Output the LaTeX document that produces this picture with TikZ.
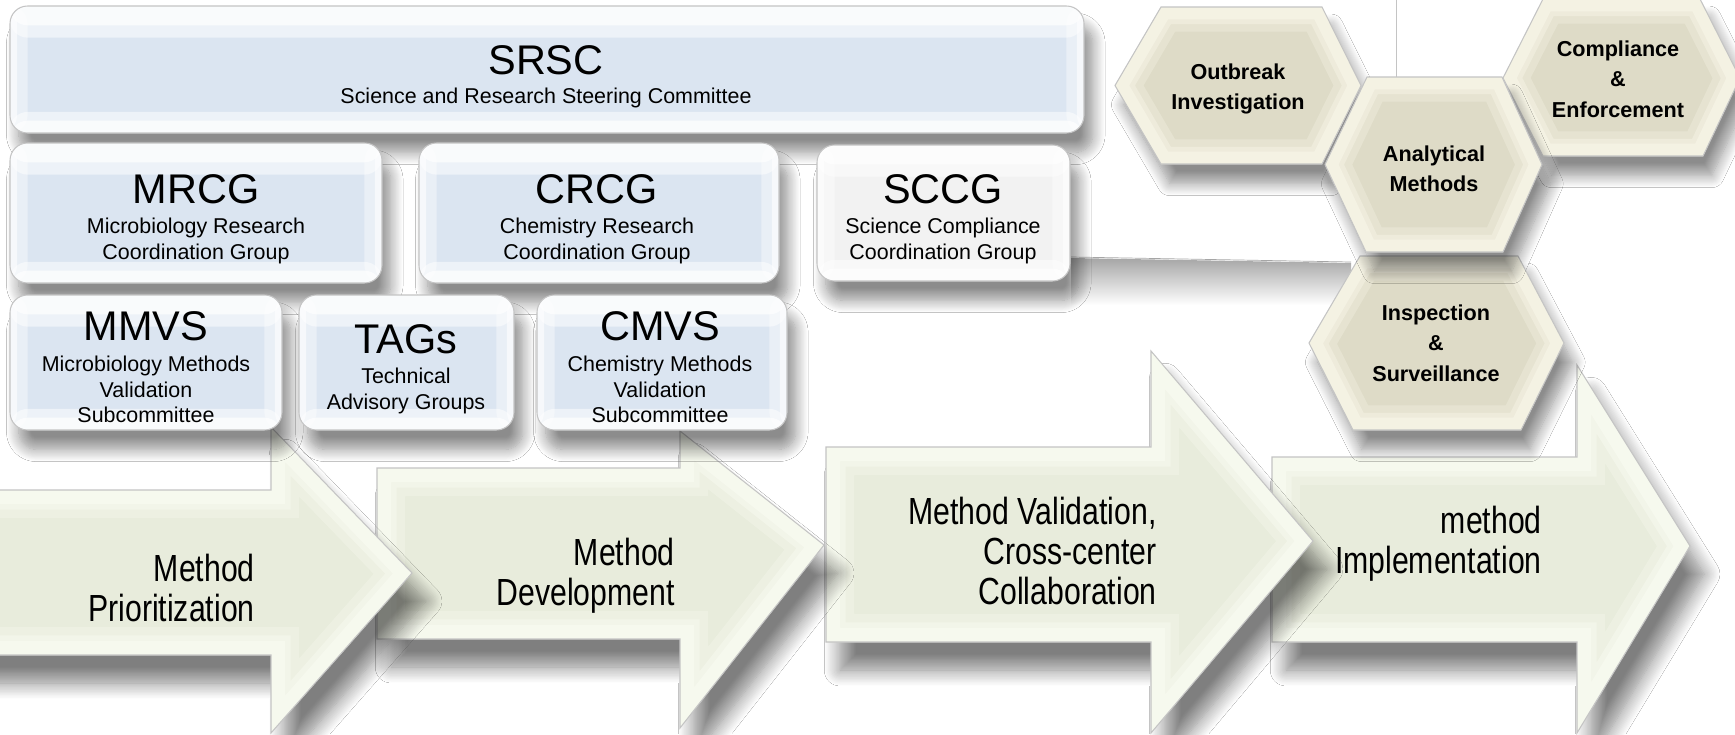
\documentclass[tikz,border=0pt]{standalone}
\usepackage{fontspec}
\setmainfont{Liberation Sans}
\newfontfamily\narrowfont[FakeStretch=0.8]{Liberation Sans}
\usetikzlibrary{shadows.blur}

\definecolor{boxblue}{HTML}{DBE5F1}
\definecolor{boxgrey}{HTML}{F2F2F2}
\definecolor{hexkhaki}{HTML}{DEDBC7}
\definecolor{hexcream}{HTML}{F6F4E6}
\definecolor{arrowgreen}{HTML}{E8ECDC}
\definecolor{arrowlight}{HTML}{F8FAF0}
\definecolor{edgegrey}{HTML}{C4C4C4}

% fill a closed path, lay a soft light band inside its border, then outline it
\newcommand{\bevelled}[4]{%
  \fill[#1] #4;
  \begin{scope}
    \clip #4;
    \draw[#2, opacity=0.35, line width=2*#3] #4;
    \draw[#2, opacity=0.5, line width=1.4*#3] #4;
    \draw[#2, opacity=0.8, line width=#3] #4;
  \end{scope}
  \draw[edgegrey, line width=0.6pt] #4;
}

\begin{document}
\begin{tikzpicture}[x=0.02cm, y=-0.02cm,
  softshadow/.style={blur shadow={shadow xshift=5pt, shadow yshift=-11pt, shadow blur radius=7pt, shadow blur steps=14, shadow opacity=45}},
  arrowshadow/.style={blur shadow={shadow xshift=8pt, shadow yshift=-16pt, shadow blur radius=9pt, shadow blur steps=14, shadow opacity=50}},
  box/.style={draw=edgegrey, line width=0.6pt, fill=boxblue, rounded corners=10pt, inner sep=0pt, softshadow,
    path picture={
      \fill[white, opacity=0.5] (path picture bounding box.north west) rectangle ([yshift=-18pt]path picture bounding box.north east);
      \fill[white, opacity=0.7] (path picture bounding box.north west) rectangle ([yshift=-11pt]path picture bounding box.north east);
      \fill[white, opacity=0.5] (path picture bounding box.south west) rectangle ([yshift=12pt]path picture bounding box.south east);
      \fill[white, opacity=0.7] (path picture bounding box.south west) rectangle ([yshift=7pt]path picture bounding box.south east);
      \fill[white, opacity=0.4] (path picture bounding box.south west) rectangle ([xshift=10pt]path picture bounding box.north west);
      \fill[white, opacity=0.4] (path picture bounding box.south east) rectangle ([xshift=-10pt]path picture bounding box.north east);
      \fill[white, opacity=0.6] (path picture bounding box.south west) rectangle ([xshift=4pt]path picture bounding box.north west);
      \fill[white, opacity=0.6] (path picture bounding box.south east) rectangle ([xshift=-4pt]path picture bounding box.north east);}},
  boxsize/.style 2 args={minimum width=#1*0.02cm, minimum height=#2*0.02cm},
  ttl/.style={font=\fontsize{23.6}{28}\selectfont, anchor=base, inner sep=0pt},
  sub/.style={font=\fontsize{12.2}{14.5}\selectfont, align=center, anchor=north, inner sep=0pt},
  hextext/.style={font=\fontsize{12.3}{17.6}\selectfont\bfseries, align=center, anchor=north, inner sep=0pt},
  steptext/.style={font=\narrowfont\fontsize{21.5}{22.8}\selectfont, align=right, anchor=north east, inner sep=0pt}]

\useasboundingbox (0,0) rectangle (1735,734);
\fill[white] (0,0) rectangle (1735,734);
\clip (0,0) rectangle (1735,734);

% page behind
\draw[edgegrey] (1396,0) -- (1396,78);
\shade[top color=black!35, bottom color=white] (1071,258) -- (1351,263) -- (1351,305) -- (1071,305) -- cycle;
\draw[gray!70] (1071,257) -- (1351,262);

% process arrows, last one first
\bevelled{arrowgreen, arrowshadow}{arrowlight}{16pt}{(1272,457) -- (1577,457) -- (1577,365) -- (1690,546) -- (1577,733) -- (1577,642) -- (1272,642) -- cycle}
\bevelled{arrowgreen, arrowshadow}{arrowlight}{16pt}{(826,447) -- (1151,447) -- (1151,351) -- (1313,541) -- (1151,733) -- (1151,642) -- (826,642) -- cycle}
\bevelled{arrowgreen, arrowshadow}{arrowlight}{16pt}{(377,468) -- (680,468) -- (680,431) -- (824,545) -- (680,728) -- (680,639) -- (377,639) -- cycle}
\bevelled{arrowgreen, arrowshadow}{arrowlight}{16pt}{(-30,490) -- (271,490) -- (271,427) -- (412,573) -- (271,733) -- (271,655) -- (-30,655) -- cycle}

\node[steptext] (prio) at (255,554) {Method\\Prioritization};
\node[steptext] (dev) at (675,537.5) {Method\\Development};
\node[steptext] (valid) at (1157,496.5) {Method Validation,\\Cross-center\\Collaboration};
\node[steptext] (impl) at (1542,506) {method\\Implementation};

% committees
\node[box, boxsize={1074}{127}] (srsc) at (547,69.5) {};
\node[ttl] (srsc-t) at (546,74) {SRSC};
\node[sub] (srsc-s) at (546,88) {Science and Research Steering Committee};

\node[box, boxsize={372}{140}] (mrcg) at (196,213) {};
\node[ttl] (mrcg-t) at (196,203) {MRCG};
\node[sub] (mrcg-s) at (196,218) {Microbiology Research\\Coordination Group};

\node[box, boxsize={360}{140}] (crcg) at (599,213) {};
\node[ttl] (crcg-t) at (597,203) {CRCG};
\node[sub] (crcg-s) at (597,218) {Chemistry Research\\Coordination Group};

\node[box, fill=boxgrey, boxsize={253}{136}] (sccg) at (943.5,213) {};
\node[ttl] (sccg-t) at (943,203) {SCCG};
\node[sub] (sccg-s) at (943,218) {Science Compliance\\Coordination Group};

\node[box, boxsize={272}{135}] (mmvs) at (146,362.5) {};
\node[ttl] (mmvs-t) at (146,340) {MMVS};
\node[sub] (mmvs-s) at (146,356) {Microbiology Methods\\Validation\\Subcommittee};

\node[box, boxsize={215}{135}] (tags) at (406.5,362.5) {};
\node[ttl] (tags-t) at (406,353) {TAGs};
\node[sub] (tags-s) at (406,368) {Technical\\Advisory Groups};

\node[box, boxsize={250}{135}] (cmvs) at (662,362.5) {};
\node[ttl] (cmvs-t) at (660,340) {CMVS};
\node[sub] (cmvs-s) at (660,356) {Chemistry Methods\\Validation\\Subcommittee};

% activity hexagons
\bevelled{hexkhaki, softshadow}{hexcream}{14pt}{(1115,85.5) -- (1161,7) -- (1322,7) -- (1361,85.5) -- (1322,164) -- (1161,164) -- cycle}
\bevelled{hexkhaki, softshadow}{hexcream}{14pt}{(1503,78) -- (1543,-1) -- (1700,-1) -- (1740,78) -- (1703,156) -- (1543,156) -- cycle}
\bevelled{hexkhaki, softshadow}{hexcream}{14pt}{(1309,343) -- (1360,256) -- (1518,256) -- (1564,343) -- (1521,430) -- (1353,430) -- cycle}
\bevelled{hexkhaki, softshadow}{hexcream}{14pt}{(1325,164.5) -- (1367,77) -- (1502,77) -- (1542,164.5) -- (1503,252) -- (1366,252) -- cycle}

\node[hextext] (outbreak) at (1238,63) {Outbreak\\Investigation};
\node[hextext] (compliance) at (1618,40) {Compliance\\\&\\Enforcement};
\node[hextext] (inspection) at (1436,304) {Inspection\\\&\\Surveillance};
\node[hextext] (analytical) at (1434,145) {Analytical\\Methods};

\end{tikzpicture}
\end{document}
